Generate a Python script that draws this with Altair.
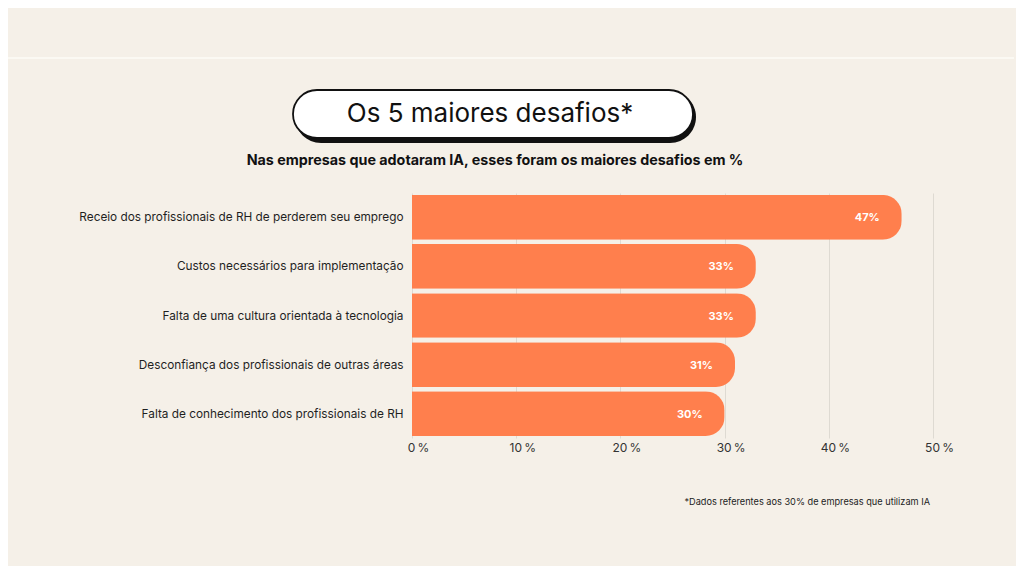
import altair as alt
import pandas as pd

categories = [
    "Receio dos profissionais de RH de perderem seu emprego",
    "Custos necessários para implementação",
    "Falta de uma cultura orientada à tecnologia",
    "Desconfiança dos profissionais de outras áreas",
    "Falta de conhecimento dos profissionais de RH",
]
values = [47, 33, 33, 31, 30]
x_ticks = [0, 10, 20, 30, 40, 50]

title_text = "Os 5 maiores desafios*"
subtitle_text = "Nas empresas que adotaram IA, esses foram os maiores desafios em %"
footnote_text = "*Dados referentes aos 30% de empresas que utilizam IA"

df = pd.DataFrame({"cat": categories, "value": values})
one = pd.DataFrame({"a": [0]})

BG = "#F5F0E8"
ORANGE = "#FF7F4D"
FONT = "Inter"

x_enc = alt.X(
    "value:Q",
    scale=alt.Scale(domain=[0, 50], nice=False),
    axis=alt.Axis(
        values=x_ticks,
        labelExpr="datum.value + '\u2009%'",
        title=None,
        domain=False,
        ticks=False,
        grid=True,
        gridColor="#DEDAD2",
        gridWidth=1,
        labelFontSize=12,
        labelColor="#333333",
        labelPadding=4,
        labelOffset=6,
        labelFlush=False,
        labelFont=FONT,
    ),
)
y_enc = alt.Y(
    "cat:N",
    sort=None,
    scale=alt.Scale(paddingInner=0.09, paddingOuter=0.04),
    axis=alt.Axis(
        title=None,
        domain=False,
        ticks=False,
        labelFontSize=11.8,
        labelColor="#1F1F1F",
        labelPadding=9,
        labelLimit=400,
        labelFont=FONT,
    ),
)

bars = alt.Chart(df).mark_bar(color=ORANGE, cornerRadiusEnd=19).encode(x=x_enc, y=y_enc)

labels = alt.Chart(df).transform_calculate(
    lbl="datum.value + '%'"
).mark_text(
    align="right", baseline="middle", dx=-22, dy=1, color="white",
    fontWeight="bold", fontSize=11, font=FONT,
).encode(x="value:Q", y=alt.Y("cat:N", sort=None), text="lbl:N")

top_line = alt.Chart(one).mark_rule(color="#FBF9F3", strokeWidth=2).encode(
    x=alt.value(-420), x2=alt.value(602), y=alt.value(-135)
)

shadow = alt.Chart(one).mark_rect(color="#111111", cornerRadius=26).encode(
    x=alt.value(-117), x2=alt.value(284), y=alt.value(-102), y2=alt.value(-50)
)
box = alt.Chart(one).mark_rect(
    fill="white", stroke="#111111", strokeWidth=1.8, cornerRadius=25
).encode(x=alt.value(-119), x2=alt.value(281), y=alt.value(-103), y2=alt.value(-55))

title = alt.Chart(one).mark_text(
    text=title_text, fontSize=26, font=FONT, color="#111111", align="center", baseline="middle"
).encode(x=alt.value(78), y=alt.value(-79))

subtitle = alt.Chart(one).mark_text(
    text=subtitle_text, fontSize=14.3, font=FONT, fontWeight="bold", color="#111111",
    align="center", baseline="middle",
).encode(x=alt.value(83), y=alt.value(-32))

footnote = alt.Chart(one).mark_text(
    text=footnote_text, fontSize=9.2, font=FONT, color="#222222", align="right", baseline="middle"
).encode(x=alt.value(518), y=alt.value(309))

chart = alt.layer(
    top_line, bars, labels, shadow, box, title, subtitle, footnote
).properties(
    width=521, height=245,
    padding={"left": 404, "top": 185, "right": 83, "bottom": 128},
    autosize=alt.AutoSizeParams(type="none"),
    background=BG,
).configure_view(stroke=None)

chart.save("out.html", embed_options={"renderer": "svg", "actions": False})
